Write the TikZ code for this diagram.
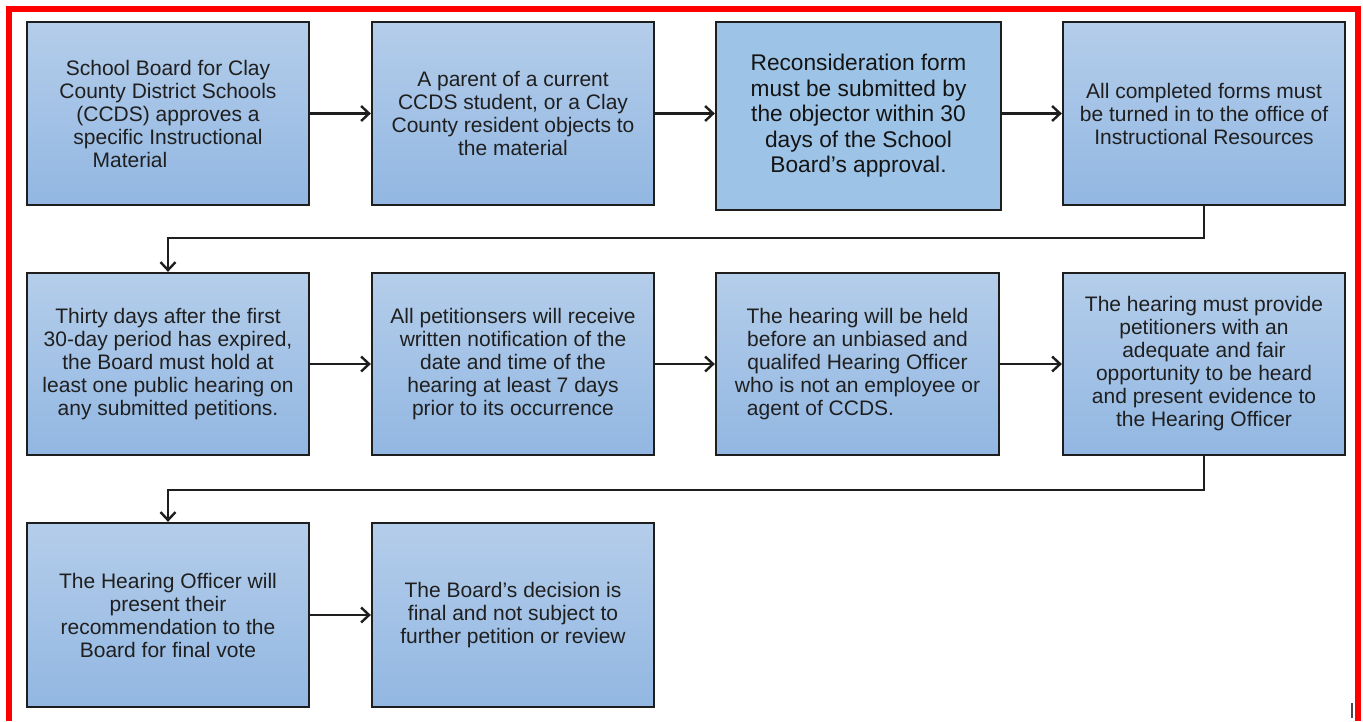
\documentclass[tikz,border=0pt]{standalone}
\usepackage{fontspec}
\setmainfont{Liberation Sans}
\usetikzlibrary{arrows.meta,shadows}
\definecolor{boxtop}{HTML}{B4CDEA}
\definecolor{boxbot}{HTML}{92B7E2}
\definecolor{boxflat}{HTML}{9DC3E6}
\definecolor{edgecol}{HTML}{1E1E1E}
\definecolor{txt}{HTML}{1F1F1F}
\definecolor{frame}{HTML}{FF0000}
\begin{document}
\begin{tikzpicture}[x=1pt,y=-1pt,
  stepbox/.style={draw=edgecol, line width=2.3pt, top color=boxtop, bottom color=boxbot,
    minimum width=282pt, minimum height=183pt, inner sep=0pt, align=center, text=txt,
    font=\fontsize{21}{23}\selectfont,
    drop shadow={shadow xshift=1pt, shadow yshift=-1pt, fill=black, opacity=0.3}},
  flatbox/.style={stepbox, fill=boxflat, top color=boxflat, bottom color=boxflat,
    minimum width=285pt, minimum height=188pt, text=black!92,
    font=\fontsize{22.7}{25.5}\selectfont},
  flow/.style={draw=edgecol, line width=2.4pt, -{Straight Barb[length=8pt,width=15pt]}}]
\useasboundingbox (0,0) rectangle (1363,721);
\fill[white] (0,0) rectangle (1363,721);
\draw[frame, line width=6pt] (9,721) -- (9,9) -- (1358,9) -- (1358,721);

% row 1
\node[stepbox] (b1) at (168,113.5) {School Board for Clay\\County District Schools\\(CCDS) approves a\\specific Instructional\\Material\hspace*{76pt}\mbox{}};
\node[stepbox] (b2) at (513,113.5) {A parent of a current\\CCDS student, or a Clay\\County resident objects to\\the material};
\node[flatbox] (b3) at (858.5,116) {Reconsideration form\\must be submitted by\\the objector within 30\\days of the School\\Board’s approval.};
\node[stepbox] (b4) at (1204,113.5) {All completed forms must\\be turned in to the office of\\Instructional Resources};

% row 2
\node[stepbox, minimum height=182pt] (b5) at (168,364) {Thirty days after the first\\30-day period has expired,\\the Board must hold at\\least one public hearing on\\any submitted petitions.};
\node[stepbox, minimum height=182pt] (b6) at (513,364) {All petitionsers will receive\\written notification of the\\date and time of the\\hearing at least 7 days\\prior to its occurrence};
\node[stepbox, minimum height=182pt, minimum width=283pt] (b7) at (857.5,364) {The hearing will be held\\before an unbiased and\\qualifed Hearing Officer\\who is not an employee or\\agent of CCDS.\hspace*{74pt}\mbox{}};
\node[stepbox, minimum height=182pt] (b8) at (1204,364) {The hearing must provide\\petitioners with an\\adequate and fair\\opportunity to be heard\\and present evidence to\\the Hearing Officer};

% row 3
\node[stepbox, minimum height=184pt] (b9) at (168,615) {The Hearing Officer will\\present their\\recommendation to the\\Board for final vote};
\node[stepbox, minimum height=184pt] (b10) at (513,615) {The Board’s decision is\\final and not subject to\\further petition or review};

% connectors
\draw[flow] (b1.east) -- (b2.west);
\draw[flow] (b2.east) -- (b2.east -| b3.west);
\draw[flow] (b2.east -| b3.east) -- (b4.west);
\coordinate (k1) at (1204,238);
\draw[flow] (b4.south) -- (k1) -| (b5.north);
\draw[flow] (b5.east) -- (b6.west);
\draw[flow] (b6.east) -- (b7.west);
\draw[flow] (b7.east) -- (b8.west);
\coordinate (k2) at (1204,490);
\draw[flow] (b8.south) -- (k2) -| (b9.north);
\draw[flow] (b9.east) -- (b10.west);

% small mark bottom right
\draw[edgecol!80, line width=1.8pt] (1352,703) -- (1352,718);
\end{tikzpicture}
\end{document}
